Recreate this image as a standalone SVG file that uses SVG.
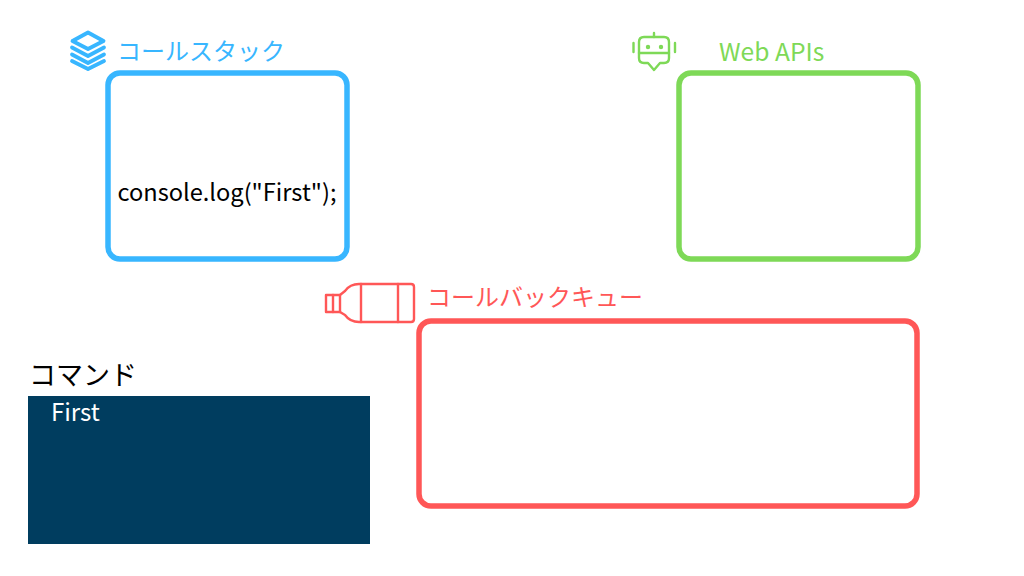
<svg xmlns="http://www.w3.org/2000/svg" width="1024" height="576" viewBox="0 0 1024 576">
<style>
text{font-family:"Noto Sans CJK JP","Noto Sans",sans-serif;font-weight:400}
.box{fill:none;stroke-width:5.500}
.ic{fill:none;stroke-linejoin:round;stroke-linecap:round}
</style>
<rect width="1024" height="576" fill="#fff"/>
<g id="callstack">
<rect class="box" x="108" y="73" width="239" height="186" rx="12" stroke="#38b6ff"/>
<text x="117" y="60" font-size="24" fill="#38b6ff">コールスタック</text>
<g class="ic" stroke="#38b6ff" stroke-width="3.800">
<path d="M88 32.500L103.500 41L88 49L72.500 41Z"/>
<path d="M72 47.500L88 56L104 47.500"/>
<path d="M72 54.500L88 63L104 54.500"/>
<path d="M72 61L88 69L104 61"/>
</g>
<text x="117.500" y="201" font-size="23.600" fill="#000">console.log("First");</text>
</g>
<g id="webapis">
<rect class="box" x="679" y="73" width="239" height="186" rx="12" stroke="#7ed957"/>
<text x="719" y="61" font-size="24.600" fill="#7ed957">Web APIs</text>
<g class="ic" stroke="#7ed957" stroke-width="2.400">
<path d="M644 37H664Q669 37 669 42V58Q669 63 664 63H660L654 70L648 63H644Q639 63 639 58V42Q639 37 644 37Z"/>
<path d="M639 53H669M654 33V37M633.500 43V52M675 43V52"/>
<circle cx="648" cy="47" r="1" fill="#7ed957"/>
<circle cx="661" cy="47" r="1" fill="#7ed957"/>
</g>
</g>
<g id="callbackqueue">
<rect class="box" x="419" y="321" width="498" height="185" rx="12" stroke="#ff5757"/>
<text x="427" y="306" font-size="24" fill="#ff5757">コールバックキュー</text>
<g class="ic" stroke="#ff5757" stroke-width="2.400">
<path d="M359 284H411Q414 284 414 287V319Q414 322 411 322H359Q350 322 345 315L340 312H326V295H340L345 291Q350 284 359 284Z"/>
<path d="M361 284V322M398 284V322M333 295V312M340 295V312"/>
</g>
</g>
<g id="command">
<text x="29" y="385" font-size="27" fill="#000">コマンド</text>
<rect x="28" y="396" width="342" height="148" fill="#003d5f"/>
<text x="51" y="421" font-size="24" fill="#fff">First</text>
</g>
<g id="connectors"/>
</svg>
